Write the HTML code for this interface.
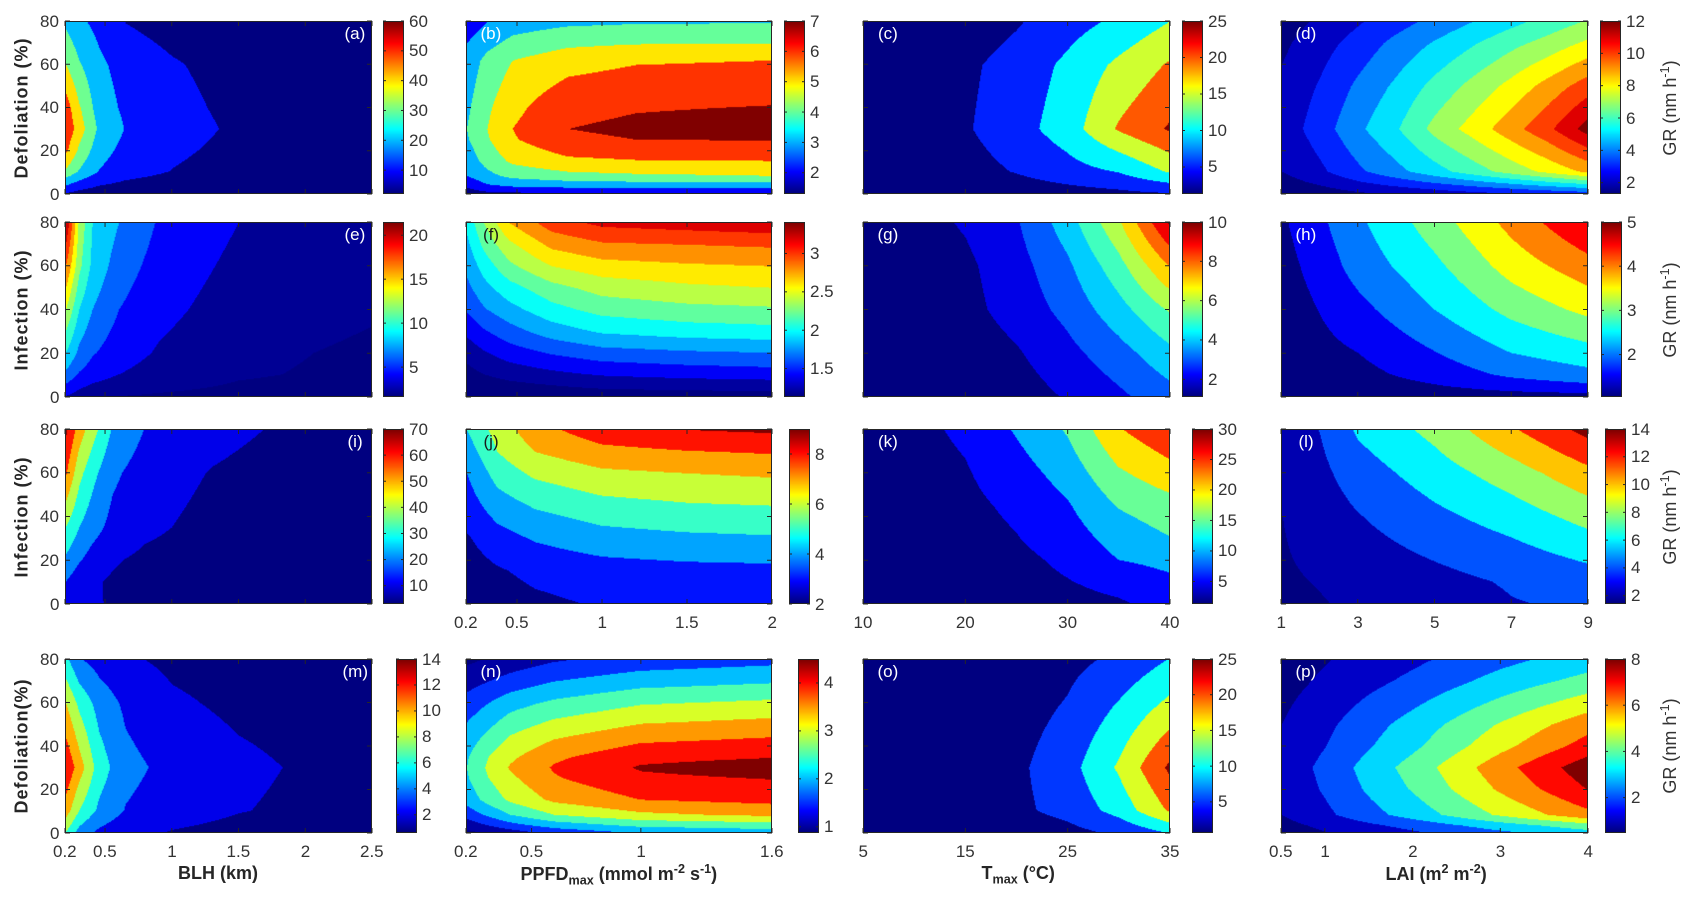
<!DOCTYPE html>
<html><head><meta charset="utf-8">
<style>
html,body{margin:0;padding:0;background:#fff;}
#fig{position:relative;width:1690px;height:903px;overflow:hidden;background:#fff;font-family:"Liberation Sans Narrow","Liberation Sans",sans-serif;color:#262626;}
.panel{position:absolute;box-sizing:border-box;border:1px solid #262626;}
.panel canvas,.cb canvas{display:block;width:100%;height:100%;}
.cb{position:absolute;box-sizing:border-box;border:1px solid #262626;}
.t{position:absolute;font-size:17px;line-height:17px;white-space:nowrap;color:#333;}
.lt{position:absolute;font-size:17px;line-height:17px;white-space:nowrap;}
.ttl{position:absolute;font-size:18px;font-weight:bold;white-space:nowrap;font-family:"Liberation Sans",sans-serif;color:#262626;}
.rot{transform:translate(-50%,-50%) rotate(-90deg);}
sup,sub{font-size:70%;}
svg{position:absolute;left:0;top:0;}
</style></head>
<body>
<div id="fig"></div>
<script>
// ---- data ----
const xs_a=[0.2,0.3,0.45,0.65,1.0,1.4,2.5]; const ys_a=[0,10,20,30,40,60,80];
const z_a=[[10,7,5,4,3,2.5,2],[38,29,19.5,14,9.7,6,2],[52,38,24,17,12,8,2.5],[58,45,28,19.5,14,9.5,3],[55,41,25,18,13,8.5,2.5],[40,31,22,16,11,7,2],[28,22,17,9.8,6,4,2]];
const lev_a=[10,20,30,40,50,60]; const clim_a=[2,60]; const cbt_a=[10,20,30,40,50,60];

const xs_b=[0.2,0.32,0.47,0.8,1.2,2]; const ys_b=[0,3,8,15,25,30,41,62,70,80];
const z_b=[[1.5,1.8,1.9,2.0,2.0,1.9],[2.1,2.8,3.0,3.2,3.3,3.3],[3.0,3.7,4.3,4.7,4.85,5.0],[3.4,4.4,5.2,5.8,5.95,6.0],[3.9,4.9,5.9,6.8,7.0,7.05],[4.0,5.0,6.0,7.0,7.2,7.4],[3.8,4.8,5.7,6.7,6.9,7.0],[3.4,4.3,5.0,5.6,5.9,6.0],[3.0,3.7,4.3,4.8,4.95,5.0],[2.4,3.0,3.5,3.8,3.9,3.95]];
const lev_b=[2,3,4,5,6,7]; const clim_b=[1.3,7]; const cbt_b=[2,3,4,5,6,7];

const xs_c=[10,20,25,30,35,40]; const ys_c=[0,10,30,60,80];
const z_c=[[1,1.5,2,3,4,5],[1,3,5.3,8,10.2,15.5],[1,4.5,8,12.5,20.5,25.5],[1,4,7,11,16,20.5],[1,2,4.5,8,11,15]];
const lev_c=[5,10,15,20,25]; const clim_c=[1.3,25]; const cbt_c=[5,10,15,20,25];

const xs_d=[1,2,3,4,5,6,7,8,9]; const ys_d=[0,5,10,30,50,70,80];
const z_d=[[1.2,1.5,1.9,2.2,2.5,2.8,3.1,3.4,3.7],[1.6,2.2,2.9,3.5,4.1,4.7,5.3,5.9,6.5],[2.0,2.8,3.8,4.7,5.6,6.5,7.4,8.3,9.2],[2.4,3.5,4.8,5.9,7.3,8.4,9.6,10.8,12.4],[2.2,3.1,4.2,5.2,6.3,7.3,8.3,9.4,10.5],[1.8,2.6,3.4,4.3,5.1,5.9,6.7,7.4,8.2],[1.5,2.2,2.9,3.6,4.3,5.0,5.7,6.4,7.1]];
const lev_d=[2,3,4,5,6,7,8,9,10,11,12]; const clim_d=[1.3,12]; const cbt_d=[2,4,6,8,10,12];

const xs_e=[0.2,0.3,0.4,0.6,0.9,1.5,2.5]; const ys_e=[0,10,20,40,60,80];
const z_e=[[4.0,3.2,2.6,2.0,1.8,1.5,1.3],[7.5,5.8,5.0,4.0,3.2,2.2,1.6],[10,7.5,6.2,4.9,3.8,2.4,1.7],[14,10,8,6.0,4.6,3.0,2.2],[18,12.5,9.5,7.0,5.2,3.5,2.4],[22,13.5,10,8.0,5.8,4.0,2.7]];
const lev_e=[2,4,6,8,10,12,14,16,18,20]; const clim_e=[1.6,21.5]; const cbt_e=[5,10,15,20];

const xs_f=[0.2,0.3,0.45,0.7,1.0,1.5,2.0]; const ys_f=[0,5,10,20,30,40,50,60,70,80];
const z_f=[[1.0,1.02,1.05,1.08,1.1,1.11,1.12],[1.06,1.1,1.15,1.2,1.25,1.28,1.3],[1.13,1.2,1.27,1.35,1.42,1.47,1.5],[1.27,1.38,1.5,1.62,1.72,1.77,1.8],[1.45,1.58,1.72,1.9,2.03,2.1,2.13],[1.62,1.78,1.93,2.13,2.27,2.34,2.37],[1.75,1.93,2.12,2.33,2.48,2.56,2.6],[1.85,2.08,2.35,2.6,2.72,2.77,2.8],[1.95,2.25,2.55,2.85,2.97,3.0,3.03],[2.05,2.4,2.8,3.1,3.25,3.3,3.35]];
const lev_f=[1.2,1.4,1.6,1.8,2.0,2.2,2.4,2.6,2.8,3.0,3.2]; const clim_f=[1.13,3.41]; const cbt_f=[1.5,2,2.5,3];

const xs_g=[10,20,25,30,35,40]; const ys_g=[0,20,40,60,80];
const z_g=[[1.0,1.2,1.5,2.1,2.8,3.6],[1.0,1.4,1.9,2.7,3.6,4.7],[1.05,1.7,2.4,3.3,4.6,6.1],[1.1,1.8,2.6,3.8,5.6,8.0],[1.2,2.1,2.9,4.5,6.8,10.1]];
const lev_g=[2,3,4,5,6,7,8,9,10]; const clim_g=[1.1,10]; const cbt_g=[2,4,6,8,10];

const xs_h=[1,2,3,5,7,9]; const ys_h=[0,5,10,20,40,60,80];
const z_h=[[1.02,1.08,1.12,1.22,1.3,1.35],[1.05,1.15,1.25,1.48,1.75,1.92],[1.08,1.22,1.35,1.7,2.1,2.35],[1.12,1.35,1.5,1.98,2.5,2.8],[1.2,1.52,1.85,2.5,3.15,3.63],[1.3,1.72,2.2,2.88,3.7,4.3],[1.42,1.9,2.4,3.25,4.15,4.98]];
const lev_h=[1.5,2,2.5,3,3.5,4,4.5]; const clim_h=[1.04,5]; const cbt_h=[2,3,4,5];

const xs_i=[0.2,0.3,0.4,0.55,0.8,1.3,1.7,2.5]; const ys_i=[0,10,20,35,60,80];
const z_i=[[14,12,10.6,9.5,7,4,3,2.5],[20,14,11,9,7,4.5,3.5,2.5],[28,21,16,11,8,5.5,4,3],[40,30,24,17,12,7,5,3],[61,43,33,22,15,9.5,7,4],[72,55,44,29,19.5,13,9.9,5]];
const lev_i=[10,20,30,40,50,60,70]; const clim_i=[3,70]; const cbt_i=[10,20,30,40,50,60,70];

const xs_j=[0.2,0.38,0.6,1.0,1.5,2.0]; const ys_j=[0,15,30,45,60,70,80];
const z_j=[[2.2,2.5,2.8,3.1,3.4,3.5],[2.5,2.9,3.25,3.55,3.7,3.75],[2.9,3.6,4.1,4.6,4.8,4.9],[3.5,4.5,5.1,5.65,5.9,6.0],[4.0,5.4,6.2,6.8,7.0,7.15],[4.5,6.0,7.0,7.7,7.95,8.1],[5.0,6.4,7.6,8.6,9.0,9.15]];
const lev_j=[3,4,5,6,7,8,9]; const clim_j=[2,9]; const cbt_j=[2,4,6,8];

const xs_k=[10,20,25,30,35,40]; const ys_k=[0,10,20,30,45,60,80];
const z_k=[[1,1.8,2.5,3.5,4.5,6.5],[1.1,2.1,3.2,4.8,6.5,9.0],[1.2,2.5,3.8,6.0,10.0,11.5],[1.3,3.0,4.8,7.5,12.0,14.8],[1.5,3.8,6.0,9.5,15.3,18.0],[1.7,4.6,7.8,12.0,19.2,23.0],[2.0,5.8,10.5,15.5,24.5,29]];
const lev_k=[5,10,15,20,25]; const clim_k=[1.3,30]; const cbt_k=[5,10,15,20,25,30];

const xs_l=[1,2,3,5,7,9]; const ys_l=[0,10,20,40,60,80];
const z_l=[[1.6,1.9,2.3,2.9,3.9,4.3],[1.75,2.1,2.6,3.4,4.2,5.0],[1.85,2.35,3.0,4.05,5.0,6.2],[1.98,2.9,3.9,5.5,6.9,8.7],[2.5,3.5,5.0,7.0,9.0,11.4],[3.0,4.05,6.3,8.6,11.7,14.6]];
const lev_l=[2,4,6,8,10,12,14]; const clim_l=[1.4,14]; const cbt_l=[2,4,6,8,10,12,14];

const xs_m=[0.2,0.3,0.45,0.65,1.0,1.5,2.5]; const ys_m=[0,10,30,60,80];
const z_m=[[8,5.3,3.6,2.6,1.9,1.4,0.8],[11,8,5.6,3.9,2.9,2.1,1.1],[13.8,11,7.0,4.6,3.4,2.4,1.2],[10,7.5,5.2,3.6,2.3,1.6,1.0],[6.5,4.2,3.2,2.3,1.6,1.2,0.8]];
const lev_m=[2,4,6,8,10,12,14]; const clim_m=[0.6,14]; const cbt_m=[2,4,6,8,10,12,14];

const xs_n=[0.2,0.3,0.4,0.6,1.0,1.6]; const ys_n=[0,3,8,15,25,30,35,45,60,70,80];
const z_n=[[0.9,1.1,1.3,1.7,2.1,2.3],[1.2,1.5,1.8,2.2,2.6,2.75],[1.7,2.1,2.5,3.0,3.4,3.6],[2.2,2.7,3.1,3.6,4.0,4.15],[2.45,3.0,3.4,3.95,4.4,4.52],[2.5,3.1,3.55,4.05,4.55,4.75],[2.45,3.0,3.4,3.9,4.35,4.47],[2.2,2.6,3.0,3.4,3.8,3.95],[1.7,2.0,2.3,2.6,2.95,3.1],[1.3,1.5,1.7,2.0,2.3,2.45],[0.9,1.05,1.2,1.45,1.7,1.85]];
const lev_n=[1,1.5,2,2.5,3,3.5,4,4.5]; const clim_n=[0.87,4.5]; const cbt_n=[1,2,3,4];

const xs_o=[5,15,20,25,30,35]; const ys_o=[0,10,30,60,80];
const z_o=[[0.5,1.2,2.0,3.5,6.0,10.5],[0.6,2,4.0,6.5,11.8,20.5],[0.7,2.5,4.0,8.0,15.6,25.8],[0.6,1.8,2.8,5.3,10.2,16],[0.5,1.3,2.2,3.6,6.0,10.2]];
const lev_o=[5,10,15,20,25]; const clim_o=[0.64,25]; const cbt_o=[5,10,15,20,25];

const xs_p=[0.5,1,1.5,2,2.5,3,3.5,4]; const ys_p=[0,3,8,20,30,40,50,60,70,80];
const z_p=[[0.56,0.99,1.46,1.89,2.37,2.84,3.27,3.7],[0.69,1.22,1.8,2.33,2.92,3.5,4.03,4.6],[1.01,1.79,2.65,3.43,4.29,5.15,5.93,6.7],[1.21,2.14,3.16,4.09,5.12,6.14,7.07,8.02],[1.3,2.3,3.4,4.4,5.5,6.6,7.6,8.6],[1.12,1.98,2.92,3.78,4.73,5.68,6.54,7.4],[1.0,1.77,2.62,3.39,4.24,5.08,5.85,6.6],[0.83,1.47,2.18,2.82,3.52,4.22,4.86,5.5],[0.66,1.17,1.73,2.24,2.81,3.37,3.88,4.35],[0.53,0.94,1.39,1.8,2.26,2.71,3.12,3.5]];
const lev_p=[1,2,3,4,5,6,7,8]; const clim_p=[0.47,8]; const cbt_p=[2,4,6,8];

const yTicks=[0,20,40,60,80];
const xt_blh=[0.2,0.5,1,1.5,2,2.5];
const xt_ppfd=[0.2,0.5,1,1.5,2];
const xt_ppfd4=[0.2,0.5,1,1.6];
const xt_t=[10,20,30,40];
const xt_t4=[5,15,25,35];
const xt_lai=[1,3,5,7,9];
const xt_lai4=[0.5,1,2,3,4];

// ---- layout ----
const cols=[[65,372],[466,772],[863,1170],[1281,1588]];
const rows=[[21,194],[222,397],[429,604],[659,833]];
const panels=[
 {id:'a',r:0,c:0,xs:xs_a,ys:ys_a,z:z_a,lev:lev_a,cl:clim_a,cbt:cbt_a,xt:xt_blh,cbx:383},
 {id:'b',r:0,c:1,xs:xs_b,ys:ys_b,z:z_b,lev:lev_b,cl:clim_b,cbt:cbt_b,xt:xt_ppfd,cbx:784},
 {id:'c',r:0,c:2,xs:xs_c,ys:ys_c,z:z_c,lev:lev_c,cl:clim_c,cbt:cbt_c,xt:xt_t,cbx:1182},
 {id:'d',r:0,c:3,xs:xs_d,ys:ys_d,z:z_d,lev:lev_d,cl:clim_d,cbt:cbt_d,xt:xt_lai,cbx:1600},
 {id:'e',r:1,c:0,xs:xs_e,ys:ys_e,z:z_e,lev:lev_e,cl:clim_e,cbt:cbt_e,xt:xt_blh,cbx:383},
 {id:'f',r:1,c:1,xs:xs_f,ys:ys_f,z:z_f,lev:lev_f,cl:clim_f,cbt:cbt_f,xt:xt_ppfd,cbx:784},
 {id:'g',r:1,c:2,xs:xs_g,ys:ys_g,z:z_g,lev:lev_g,cl:clim_g,cbt:cbt_g,xt:xt_t,cbx:1182},
 {id:'h',r:1,c:3,xs:xs_h,ys:ys_h,z:z_h,lev:lev_h,cl:clim_h,cbt:cbt_h,xt:xt_lai,cbx:1601},
 {id:'i',r:2,c:0,xs:xs_i,ys:ys_i,z:z_i,lev:lev_i,cl:clim_i,cbt:cbt_i,xt:xt_blh,cbx:383},
 {id:'j',r:2,c:1,xs:xs_j,ys:ys_j,z:z_j,lev:lev_j,cl:clim_j,cbt:cbt_j,xt:xt_ppfd,cbx:789,lab:true},
 {id:'k',r:2,c:2,xs:xs_k,ys:ys_k,z:z_k,lev:lev_k,cl:clim_k,cbt:cbt_k,xt:xt_t,cbx:1192,lab:true},
 {id:'l',r:2,c:3,xs:xs_l,ys:ys_l,z:z_l,lev:lev_l,cl:clim_l,cbt:cbt_l,xt:xt_lai,cbx:1605,lab:true},
 {id:'m',r:3,c:0,xs:xs_m,ys:ys_m,z:z_m,lev:lev_m,cl:clim_m,cbt:cbt_m,xt:xt_blh,cbx:396,lab:true},
 {id:'n',r:3,c:1,xs:xs_n,ys:ys_n,z:z_n,lev:lev_n,cl:clim_n,cbt:cbt_n,xt:xt_ppfd4,cbx:798,lab:true},
 {id:'o',r:3,c:2,xs:xs_o,ys:ys_o,z:z_o,lev:lev_o,cl:clim_o,cbt:cbt_o,xt:xt_t4,cbx:1192,lab:true},
 {id:'p',r:3,c:3,xs:xs_p,ys:ys_p,z:z_p,lev:lev_p,cl:clim_p,cbt:cbt_p,xt:xt_lai4,cbx:1605,lab:true}
];

function jet(t){t=Math.max(0,Math.min(1,t));
 const f=v=>Math.round(255*Math.max(0,Math.min(1,v)));
 return [f(1.5-Math.abs(4*t-3)),f(1.5-Math.abs(4*t-2)),f(1.5-Math.abs(4*t-1))];}
function seg(arr,v){let i=0;while(i<arr.length-2&&v>arr[i+1])i++;return i;}
function interp(p,xv,yv){
 const i=seg(p.xs,xv), j=seg(p.ys,yv);
 const tx=Math.max(0,Math.min(1,(xv-p.xs[i])/(p.xs[i+1]-p.xs[i])));
 const ty=Math.max(0,Math.min(1,(yv-p.ys[j])/(p.ys[j+1]-p.ys[j])));
 const z=p.z;
 return (z[j][i]*(1-tx)+z[j][i+1]*tx)*(1-ty)+(z[j+1][i]*(1-tx)+z[j+1][i+1]*tx)*ty;}
function fmt(v){return String(v);}

const fig=document.getElementById('fig');
const svgNS='http://www.w3.org/2000/svg';
const svg=document.createElementNS(svgNS,'svg');
svg.setAttribute('width','1690');svg.setAttribute('height','903');



function addText(cls,html,x,y,align,name){
 const d=document.createElement('div');d.className=cls;d.innerHTML=html;
 
 
 fig.appendChild(d);
 const w=d.offsetWidth,h=d.offsetHeight;
 let lx=x; if(align==='c')lx=x-w/2; else if(align==='r')lx=x-w;
 d.style.left=lx+'px';d.style.top=(y-h/2)+'px';return d;}
function tick(x1,y1,x2,y2){const l=document.createElementNS(svgNS,'line');
 l.setAttribute('x1',x1);l.setAttribute('y1',y1);l.setAttribute('x2',x2);l.setAttribute('y2',y2);
 l.setAttribute('stroke','#262626');l.setAttribute('stroke-width','1');
 
 
 svg.appendChild(l);}

panels.forEach(p=>{
 const [x0,x1]=cols[p.c],[y0,y1]=rows[p.r];
 const W=x1-x0,H=y1-y0;
 const xmin=p.xt[0],xmax=p.xt[p.xt.length-1];
 const div=document.createElement('div');div.className='panel';
 div.style.left=x0+'px';div.style.top=y0+'px';div.style.width=W+'px';div.style.height=H+'px';
 
 
 const cv=document.createElement('canvas');cv.width=W;cv.height=H;
 
 
 div.appendChild(cv);fig.appendChild(div);
 const ctx=cv.getContext('2d');const img=ctx.createImageData(W,H);
 const cols2=[jet(0)].concat(p.lev.map(L=>jet((L-p.cl[0])/(p.cl[1]-p.cl[0]))));
 for(let j=0;j<H;j++){const yv=80*(1-(j+0.5)/H);
  for(let i=0;i<W;i++){const xv=xmin+(i+0.5)/W*(xmax-xmin);
   const v=interp(p,xv,yv);let k=0;while(k<p.lev.length&&v>=p.lev[k])k++;
   const c=cols2[k],o=(j*W+i)*4;img.data[o]=c[0];img.data[o+1]=c[1];img.data[o+2]=c[2];img.data[o+3]=255;}}
 ctx.putImageData(img,0,0);
 p.xt.forEach(t=>{const x=x0+(t-xmin)/(xmax-xmin)*W;tick(x,y1,x,y1-5);tick(x,y0,x,y0+5);
  if(p.lab){addText('t',fmt(t),x,(p.r===3?851:622),'c','x-tick-label');}});
 yTicks.forEach(t=>{const y=y1-t/80*H;tick(x0,y,x0+5,y);tick(x1,y,x1-5,y);
  if(p.c===0){addText('t',fmt(t),59,y,'r','y-tick-label');}});
 const dark=(p.id==='f'||p.id==='j');
 const lt=addText('lt','('+p.id+')',p.c===0?x1-17:x0+25,y0+12,'c','panel-label-'+p.id);
 lt.style.color=dark?'#1a1a1a':'#fff';
 const cb=document.createElement('div');cb.className='cb';
 cb.style.left=p.cbx+'px';cb.style.top=y0+'px';cb.style.width='21px';cb.style.height=H+'px';
 
 
 const cc=document.createElement('canvas');cc.width=1;cc.height=H;
 
 
 cb.appendChild(cc);fig.appendChild(cb);
 const c2=cc.getContext('2d');const im2=c2.createImageData(1,H);
 for(let j=0;j<H;j++){const c=jet(1-(j+0.5)/H);im2.data[j*4]=c[0];im2.data[j*4+1]=c[1];im2.data[j*4+2]=c[2];im2.data[j*4+3]=255;}
 c2.putImageData(im2,0,0);
 p.cbt.forEach(t=>{const y=y1-(t-p.cl[0])/(p.cl[1]-p.cl[0])*H;
  tick(p.cbx,y,p.cbx+3,y);tick(p.cbx+21,y,p.cbx+18,y);
  addText('t',fmt(t),p.cbx+26,y,'l','colorbar-tick-label');});
});
fig.appendChild(svg);

const yl=['Defoliation (%)','Infection (%)','Infection (%)','Defoliation(%)'];
yl.forEach((s,r)=>{const d=addText('ttl',s,22,(rows[r][0]+rows[r][1])/2,'l','y-axis-title');
 d.style.left='22px';d.style.top=((rows[r][0]+rows[r][1])/2)+'px';d.classList.add('rot');d.style.letterSpacing='1px';});
rows.forEach((r)=>{const d=addText('t','GR (nm h<sup>-1</sup>)',0,0,'l','colorbar-title');
 d.style.left='1668px';d.style.top=((r[0]+r[1])/2)+'px';d.classList.add('rot');d.style.fontSize='18px';});
addText('ttl','BLH (km)',218,873,'c','x-axis-title-blh');
addText('ttl','PPFD<sub>max</sub> (mmol m<sup>-2</sup> s<sup>-1</sup>)',619,875,'c','x-axis-title-ppfd');
addText('ttl','T<sub>max</sub> (°C)',1018,875,'c','x-axis-title-tmax');
addText('ttl','LAI (m<sup>2</sup> m<sup>-2</sup>)',1436,873,'c','x-axis-title-lai');
</script>
</body></html>
